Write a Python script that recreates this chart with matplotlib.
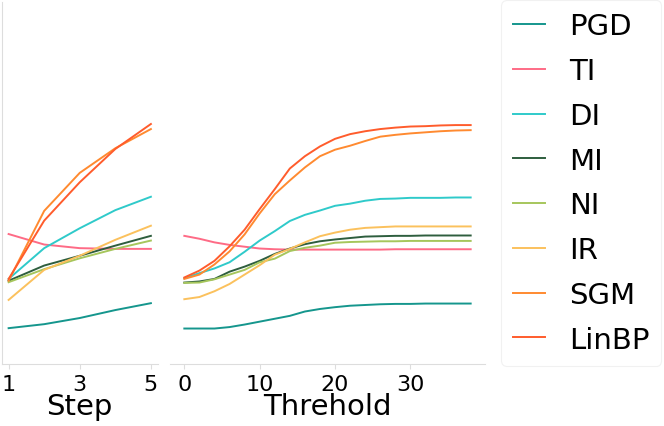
import matplotlib
matplotlib.use("Agg")
import matplotlib.pyplot as plt
import numpy as np

plt.rcParams['font.family'] = ['DejaVu Sans']

methods = ["PGD", "TI", "DI", "MI", "NI", "IR", "SGM", "LinBP"]
colors = ["#15968d", "#fe6b86", "#2fcaca", "#2e5e3e", "#a6c65c", "#fbc15d", "#ff8a30", "#ff5c2c"]

steps = [1, 2, 3, 4, 5]
step_vals = {
    "PGD":   [9.9, 11.0, 12.7, 14.9, 16.8],
    "TI":    [35.9, 33.0, 32.0, 31.8, 31.8],
    "DI":    [23.5, 32.0, 37.5, 42.5, 46.2],
    "MI":    [23.0, 27.2, 29.9, 32.7, 35.4],
    "NI":    [22.6, 26.2, 29.2, 31.8, 34.1],
    "IR":    [17.7, 26.0, 29.9, 34.3, 38.2],
    "SGM":   [23.0, 42.3, 52.8, 59.6, 64.9],
    "LinBP": [23.5, 39.6, 50.2, 59.4, 66.3],
}

thresholds = [0, 2, 4, 6, 8, 10, 12, 14, 16, 18, 20, 22, 24, 26, 28, 30, 32, 34, 36, 38]
thr_vals = {
    "PGD":   [9.8, 9.8, 9.8, 10.2, 10.9, 11.7, 12.5, 13.3, 14.5, 15.2, 15.7, 16.1, 16.3, 16.5, 16.6, 16.6, 16.7, 16.7, 16.7, 16.7],
    "TI":    [35.4, 34.6, 33.6, 32.9, 32.4, 31.9, 31.7, 31.6, 31.6, 31.6, 31.6, 31.6, 31.6, 31.6, 31.7, 31.7, 31.7, 31.7, 31.7, 31.7],
    "DI":    [23.7, 25.1, 26.4, 28.1, 31.0, 34.1, 36.7, 39.5, 41.2, 42.4, 43.7, 44.3, 45.1, 45.6, 45.7, 45.9, 45.9, 45.9, 46.0, 46.0],
    "MI":    [22.5, 22.8, 23.5, 25.5, 26.9, 28.5, 30.4, 31.9, 33.1, 33.9, 34.4, 34.8, 35.2, 35.3, 35.4, 35.4, 35.5, 35.5, 35.5, 35.5],
    "NI":    [22.4, 22.5, 23.4, 24.7, 26.0, 28.1, 29.1, 31.2, 32.1, 32.7, 33.5, 33.7, 33.8, 33.9, 33.9, 34.0, 34.0, 34.0, 34.0, 34.0],
    "IR":    [17.9, 18.5, 20.1, 22.1, 24.7, 27.3, 30.2, 31.8, 33.6, 35.3, 36.3, 37.1, 37.6, 37.8, 38.0, 38.0, 38.0, 38.0, 38.0, 38.0],
    "SGM":   [23.5, 24.7, 27.5, 31.1, 35.8, 41.6, 46.9, 50.7, 54.3, 57.4, 59.2, 60.3, 61.6, 62.8, 63.3, 63.7, 64.0, 64.3, 64.5, 64.6],
    "LinBP": [23.9, 25.8, 28.5, 32.5, 37.1, 42.8, 48.3, 54.0, 57.4, 60.1, 62.2, 63.5, 64.3, 64.9, 65.3, 65.6, 65.7, 65.9, 66.0, 66.0],
}

W, H = 664, 427
fig = plt.figure(figsize=(W / 100, H / 100), dpi=100)
ax1 = fig.add_axes([1.5 / W, 62 / H, 156.5 / W, 362 / H])
ax2 = fig.add_axes([170 / W, 62 / H, 315 / W, 362 / H])

spine_c = "#dddddd"
for ax in (ax1, ax2):
    ax.set_ylim(0, 100)
    for s in ("top", "right"):
        ax.spines[s].set_visible(False)
    ax.spines["bottom"].set_color(spine_c)
    ax.spines["left"].set_color(spine_c)
    ax.tick_params(axis="x", colors=spine_c, labelcolor="black", labelsize=16, length=3.5)
    ax.set_yticks([])
ax2.spines["left"].set_visible(False)

for m, c in zip(methods, colors):
    ax1.plot(steps, step_vals[m], color=c, lw=1.4, label=m)
    ax2.plot(thresholds, thr_vals[m], color=c, lw=1.4)

ax1.set_xticks([1, 3, 5])
ax2.set_xticks([0, 10, 20, 30])
ax1.set_xlabel("Step", fontsize=21, labelpad=-1)
ax2.set_xlabel("Threhold", fontsize=21, labelpad=-1)

handles, labels = ax1.get_legend_handles_labels()
leg = fig.legend(handles, labels, loc="upper left", bbox_to_anchor=(501 / W, 1 - 1 / H),
                 fontsize=21, handlelength=1.1, handletextpad=0.8, labelspacing=0.575,
                 borderaxespad=0, borderpad=0.42, frameon=True, fancybox=True)
leg.get_frame().set_edgecolor("#eeeeee")
leg.get_frame().set_linewidth(0.8)

fig.savefig("out.png", dpi=100)
